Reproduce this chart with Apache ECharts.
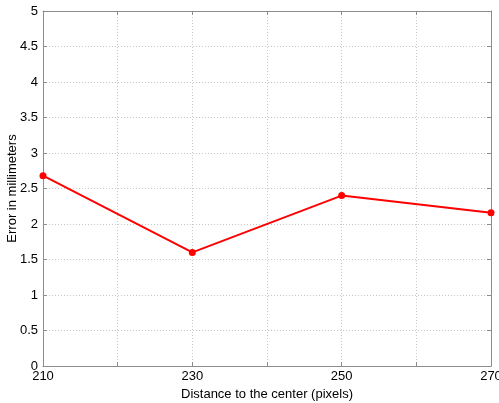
<!DOCTYPE html>
<html><head><meta charset="utf-8">
<script src="https://cdn.jsdelivr.net/npm/echarts@6/dist/echarts.min.js"></script>
<style>html,body{margin:0;padding:0;background:#fff}#c{width:499px;height:403px}</style>
</head><body><div id="c"></div>
<script>
const distances = [210, 230, 250, 270];
const errors = [2.68, 1.60, 2.40, 2.16];
const xLabels = [210, 230, 250, 270];
const xTitle = 'Distance to the center (pixels)';
const yTitle = 'Error in millimeters';

const font = 'Liberation Sans';
const axisColor = '#8c8c8c';
const chart = echarts.init(document.getElementById('c'), null, {renderer: 'canvas'});
const baseX = {
  type: 'value', min: 210, max: 270, interval: 10,
  axisLine: {show: true, onZero: false, lineStyle: {color: axisColor, width: 1}},
  axisTick: {show: true, inside: true, length: 4, lineStyle: {color: axisColor}},
};
const baseY = {
  type: 'value', min: 0, max: 5, interval: 0.5,
  axisLine: {show: true, onZero: false, lineStyle: {color: axisColor, width: 1}},
  axisTick: {show: true, inside: true, length: 4, lineStyle: {color: axisColor}},
};
chart.setOption({
  animation: false,
  grid: {left: 43, right: 8, top: 11, bottom: 37, containLabel: false, outerBoundsMode: 'none'},
  xAxis: [
    Object.assign({}, baseX, {
      position: 'bottom',
      name: xTitle, nameLocation: 'middle', nameGap: 22, nameMoveOverlap: false,
      nameTextStyle: {color: '#000', fontFamily: font, fontSize: 13},
      axisLabel: {color: '#000', fontFamily: font, fontSize: 13, margin: 4,
        formatter: v => xLabels.indexOf(v) >= 0 ? String(v) : ''},
      splitLine: {show: true, lineStyle: {color: '#c8c8c8', type: [1, 2], width: 1}}
    }),
    Object.assign({}, baseX, {position: 'top', axisLabel: {show: false}, splitLine: {show: false}})
  ],
  yAxis: [
    Object.assign({}, baseY, {
      position: 'left',
      name: yTitle, nameLocation: 'middle', nameGap: 24, nameMoveOverlap: false,
      nameTextStyle: {color: '#000', fontFamily: font, fontSize: 13},
      axisLabel: {color: '#000', fontFamily: font, fontSize: 13, margin: 5},
      splitLine: {show: true, lineStyle: {color: '#c8c8c8', type: [1, 2], width: 1}}
    }),
    Object.assign({}, baseY, {position: 'right', axisLabel: {show: false}, splitLine: {show: false}})
  ],
  series: [{
    type: 'line',
    data: distances.map((d, i) => [d, errors[i]]),
    lineStyle: {color: '#ff0000', width: 2},
    itemStyle: {color: '#ff0000'},
    symbol: 'circle', symbolSize: 7,
    clip: false
  }]
});
</script></body></html>
